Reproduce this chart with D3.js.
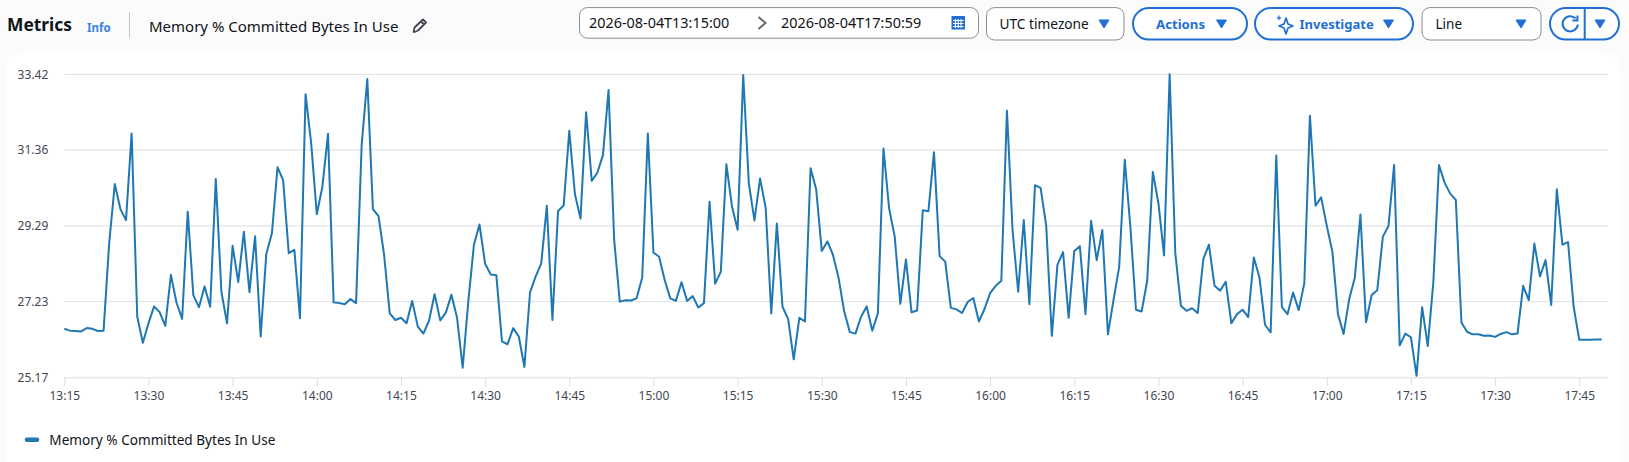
<!DOCTYPE html>
<html>
<head>
<meta charset="utf-8">
<script src="https://cdn.jsdelivr.net/npm/d3@7"></script>
<style>
html, body { margin: 0; padding: 0; background: #fbfbfb; overflow: hidden; }
svg { display: block; font-family: "Noto Sans", sans-serif; }
</style>
</head>
<body>
<svg id="chart" width="1629" height="462"></svg>
<script>
// one reading per minute, starting at 13:15
const startTime = "2026-08-04T13:15:00Z";
const endTime = "2026-08-04T17:50:59Z";
const seriesName = "Memory % Committed Bytes In Use";

const memoryValues = [
    26.49, 26.44, 26.43, 26.42, 26.51, 26.49, 26.43, 26.44, 28.82, 30.43,
    29.75, 29.45, 31.81, 26.82, 26.11, 26.64, 27.10, 26.94, 26.57, 27.96,
    27.20, 26.76, 29.68, 27.40, 27.08, 27.64, 27.09, 30.57, 27.50, 26.64,
    28.75, 27.76, 29.13, 27.49, 29.01, 26.28, 28.53, 29.09, 30.89, 30.54,
    28.55, 28.64, 26.78, 32.88, 31.54, 29.61, 30.36, 31.80, 27.21, 27.19,
    27.16, 27.30, 27.19, 31.50, 33.29, 29.75, 29.56, 28.50, 26.91, 26.73,
    26.79, 26.64, 27.25, 26.55, 26.36, 26.71, 27.43, 26.72, 26.93, 27.42,
    26.79, 25.43, 27.23, 28.77, 29.33, 28.26, 27.97, 27.95, 26.15, 26.07,
    26.51, 26.28, 25.45, 27.48, 27.91, 28.27, 29.84, 26.73, 29.70, 29.85,
    31.88, 30.16, 29.49, 32.39, 30.52, 30.74, 31.22, 32.99, 28.91, 27.23,
    27.27, 27.26, 27.32, 27.89, 31.81, 28.57, 28.45, 27.82, 27.32, 27.25,
    27.76, 27.25, 27.38, 27.07, 27.19, 29.95, 27.72, 28.04, 30.97, 29.82,
    29.19, 33.40, 30.45, 29.44, 30.58, 29.79, 26.91, 29.36, 27.09, 26.76,
    25.66, 26.79, 26.69, 30.86, 30.29, 28.61, 28.87, 28.50, 27.87, 26.96,
    26.40, 26.36, 26.82, 27.10, 26.44, 26.91, 31.40, 29.77, 29.00, 27.17,
    28.38, 26.94, 26.99, 29.72, 29.69, 31.30, 28.47, 28.32, 27.06, 27.02,
    26.92, 27.22, 27.33, 26.69, 27.03, 27.46, 27.66, 27.80, 32.43, 29.18,
    27.50, 29.45, 27.16, 30.40, 30.33, 29.30, 26.30, 28.23, 28.58, 26.79,
    28.61, 28.74, 26.89, 29.43, 28.36, 29.18, 26.34, 27.28, 28.17, 31.09,
    29.27, 27.01, 26.96, 27.80, 30.76, 29.91, 28.49, 33.42, 28.56, 27.12,
    26.98, 27.05, 26.92, 28.39, 28.78, 27.66, 27.53, 27.77, 26.64, 26.89,
    27.01, 26.81, 28.43, 27.89, 26.60, 26.39, 31.21, 27.08, 26.89, 27.48,
    27.00, 27.73, 32.29, 29.84, 30.07, 29.30, 28.59, 26.89, 26.35, 27.30,
    27.88, 29.60, 26.67, 27.41, 27.54, 29.00, 29.29, 30.95, 26.04, 26.36,
    26.26, 25.21, 27.08, 26.02, 27.77, 30.95, 30.47, 30.17, 30.00, 26.66,
    26.41, 26.34, 26.34, 26.30, 26.31, 26.27, 26.35, 26.40, 26.34, 26.36,
    27.66, 27.27, 28.81, 27.92, 28.36, 27.14, 30.29, 28.78, 28.85, 27.09,
    26.19, 26.19, 26.19, 26.20, 26.20
];

const yTicks = [25.17, 27.23, 29.29, 31.36, 33.42];
const xTickLabels = ["13:15", "13:30", "13:45", "14:00", "14:15", "14:30", "14:45", "15:00", "15:15", "15:30",
    "15:45", "16:00", "16:15", "16:30", "16:45", "17:00", "17:15", "17:30", "17:45"];

const svg = d3.select("#chart");
const ink = "#0f141a", blue = "#1f6fd6", muted = "#424650", gridColor = "#dedee3";

// white card behind the plot
svg.append("rect").attr("x", 6).attr("y", 52).attr("width", 1614).attr("height", 430)
    .attr("rx", 16).attr("fill", "#fff");

// ---- header ----
let header = svg.append("g");

function label(text, x, y, size, weight, color, anchor) {
    return header.append("text").text(text).attr("x", x).attr("y", y)
        .attr("font-size", size).attr("font-weight", weight).attr("fill", color)
        .attr("text-anchor", anchor || "start");
}

function box(x0, x1, y0, y1, r, stroke, sw) {
    header.append("rect").attr("x", x0).attr("y", y0).attr("width", x1 - x0).attr("height", y1 - y0)
        .attr("rx", r).attr("fill", "#fff").attr("stroke", stroke).attr("stroke-width", sw);
}

function arrow(cx, cy) {
    header.append("path").attr("d", `M${cx - 5},${cy - 4}H${cx + 5}L${cx},${cy + 4}Z`)
        .attr("fill", blue).attr("stroke", blue).attr("stroke-width", 1).attr("stroke-linejoin", "round");
}

label("Metrics", 7, 31, 17.4, 700, ink);
label("Info", 87, 32, 11.5, 700, "#3d83e0");
header.append("line").attr("x1", 129.5).attr("x2", 129.5).attr("y1", 12).attr("y2", 38).attr("stroke", "#c6c6cd");
label(seriesName, 149, 32, 15, 400, ink);
header.append("path").attr("d", "M413.5,32.5L414.5,27.5L423,19.5L426,22.5L418,30.5L413.5,32.5M421,21.5L424,24.5")
    .attr("fill", "none").attr("stroke", muted).attr("stroke-width", 1.8).attr("stroke-linejoin", "round");

box(579.5, 978.5, 7.6, 38.2, 8, "#8c8c94", 1);
label("2026-08-04T13:15:00", 589, 28, 14.4, 400, ink);
header.append("path").attr("d", "M758.5,17L765.5,23L758.5,29").attr("fill", "none").attr("stroke", "#656871").attr("stroke-width", 2);
label("2026-08-04T17:50:59", 781, 28, 14.4, 400, ink);
header.append("rect").attr("x", 951.5).attr("y", 16).attr("width", 13.5).attr("height", 13.5).attr("fill", blue);
header.append("path").attr("d", "M953,20.5h10.5M953,23.5h10.5M953,26.5h10.5M955.5,19v9M958.2,19v9M961,19v9")
    .attr("stroke", "#fff").attr("stroke-width", 1);

box(986.5, 1124, 7.6, 40, 8, "#8c8c94", 1);
label("UTC timezone", 999.5, 29, 13.7, 400, ink);
arrow(1104, 24);

box(1133, 1247, 8, 39.6, 15.8, blue, 2);
label("Actions", 1156, 29, 13.2, 700, blue);
arrow(1221.5, 24);

box(1255, 1413, 8, 39.6, 15.8, blue, 2);
header.append("path").attr("d", "M1286,18L1288,24L1293,26L1288,28L1286,34L1284,28L1279,26L1284,24Z")
    .attr("fill", "none").attr("stroke", blue).attr("stroke-width", 1.7).attr("stroke-linejoin", "round");
header.append("path").attr("d", "M1279,15.5v4.5M1276.8,17.8h4.4").attr("stroke", blue).attr("stroke-width", 1.2);
label("Investigate", 1299.5, 29, 13, 700, blue);
arrow(1388.5, 24);

box(1422, 1541, 7.6, 40, 8, "#8c8c94", 1);
label("Line", 1435.5, 29, 13.5, 400, ink);
arrow(1521, 24);

box(1550, 1619, 8, 39.6, 15.8, blue, 2);
header.append("line").attr("x1", 1584.7).attr("x2", 1584.7).attr("y1", 8).attr("y2", 39.6).attr("stroke", blue).attr("stroke-width", 2);
header.append("path").attr("d", "M1575.6,18.4A7.6,7.6,0,1,0,1577.8,24.5").attr("fill", "none").attr("stroke", blue).attr("stroke-width", 2);
header.append("path").attr("d", "M1577.4,15.5V20.5H1572.4").attr("fill", "none").attr("stroke", blue).attr("stroke-width", 2);
arrow(1600, 24);

// ---- chart ----
let minute = 60000;
let t0 = new Date(startTime);
let xLeft = 64.3;
let xRight = 1608;
let yTop = 74.3;
let yBottom = 377.3;

let xScale = d3.scaleUtc()
    .domain([t0, new Date(endTime)])
    .range([xLeft, xLeft + 5.611 * 275.98]);

let yScale = d3.scaleLinear()
    .domain([d3.min(yTicks), d3.max(yTicks)])
    .range([yBottom, yTop]);

let tickDates = xTickLabels.map((d, i) => new Date(t0.getTime() + i * 15 * minute));

let gGrid = svg.append("g");
gGrid.selectAll("line").data(yTicks.slice(1)).enter().append("line")
    .attr("x1", xLeft).attr("x2", xRight)
    .attr("y1", d => yScale(d)).attr("y2", d => yScale(d))
    .attr("stroke", gridColor).attr("stroke-width", 1);

let xAxis = d3.axisBottom(xScale)
    .tickValues(tickDates)
    .tickFormat((d, i) => xTickLabels[i])
    .tickSizeOuter(0)
    .tickSize(9)
    .tickPadding(5);

let gXAxis = svg.append("g")
    .attr("transform", "translate(0," + yBottom + ")")
    .call(xAxis);
gXAxis.select(".domain").attr("d", `M${xLeft},0.5H${xRight}`).attr("stroke", gridColor);
gXAxis.selectAll(".tick line").attr("stroke", gridColor);
gXAxis.selectAll("text").attr("font-size", 12).attr("font-family", "'Noto Sans', sans-serif").attr("fill", muted);

let yAxis = d3.axisLeft(yScale)
    .tickValues(yTicks)
    .tickFormat(d3.format(".2f"))
    .tickSize(0)
    .tickPadding(16);

let gYAxis = svg.append("g")
    .attr("transform", "translate(" + xLeft + ",0)")
    .call(yAxis);
gYAxis.select(".domain").remove();
gYAxis.selectAll("text").attr("font-size", 12).attr("font-family", "'Noto Sans', sans-serif").attr("fill", muted);

let line = d3.line()
    .x((d, i) => xScale(new Date(t0.getTime() + i * minute)))
    .y(d => yScale(d));

svg.append("path")
    .datum(memoryValues)
    .attr("d", line)
    .attr("fill", "none")
    .attr("stroke", "#1f77b4")
    .attr("stroke-width", 2)
    .attr("stroke-linejoin", "round");

// legend
svg.append("line").attr("x1", 27).attr("x2", 37).attr("y1", 439.7).attr("y2", 439.7)
    .attr("stroke", "#1f77b4").attr("stroke-width", 4.5).attr("stroke-linecap", "round");
svg.append("text").text(seriesName).attr("x", 49.3).attr("y", 444.5)
    .attr("font-size", 13.6).attr("fill", ink);
</script>
</body>
</html>
